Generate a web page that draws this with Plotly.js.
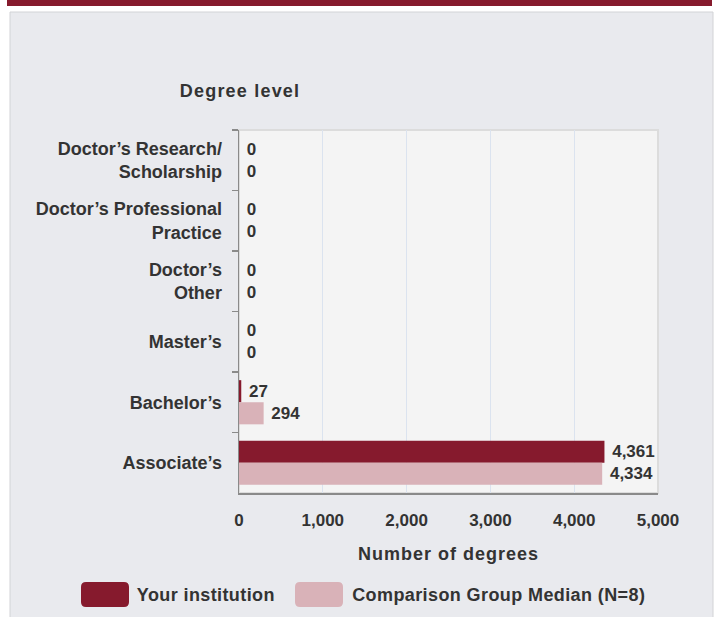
<!DOCTYPE html>
<html>
<head>
<meta charset="utf-8">
<script src="https://cdn.plot.ly/plotly-3.0.1.min.js"></script>
<style>
html,body{margin:0;padding:0;background:#ffffff;}
#chart{width:718px;height:617px;}
#chart .xtitle{letter-spacing:1px;}
#chart .annotation.ytitle-ann text{letter-spacing:1.2px;}
#chart .annotation text{letter-spacing:0.4px;}
</style>
</head>
<body>
<div id="chart"></div>
<script>
// ---- data ----
const categories = ["Doctor\u2019s Research/<br>Scholarship", "Doctor\u2019s Professional<br>Practice", "Doctor\u2019s<br>Other", "Master\u2019s", "Bachelor\u2019s", "Associate\u2019s"];
const yourInstitution = [0, 0, 0, 0, 27, 4361];
const comparisonMedian = [0, 0, 0, 0, 294, 4334];
const seriesNames = ["Your institution", "Comparison Group Median (N=8)"];
const xTickValues = [0, 1000, 2000, 3000, 4000, 5000];
const xTitle = "Number of degrees";
const yTitle = "Degree level";

// ---- layout helpers (pixel -> paper) ----
const W = 718, H = 617;
const M = {l: 239, r: 60, t: 130, b: 124};
const PW = W - M.l - M.r, PH = H - M.t - M.b;
const px = v => (v - M.l) / PW;
const py = v => (H - M.b - v) / PH;
function roundRect(x0, y0, x1, y1, r) {
  const p = (x, y) => px(x).toFixed(5) + ',' + py(y).toFixed(5);
  return 'M' + p(x0 + r, y0) + ' L' + p(x1 - r, y0) + ' Q' + p(x1, y0) + ' ' + p(x1, y0 + r) +
    ' L' + p(x1, y1 - r) + ' Q' + p(x1, y1) + ' ' + p(x1 - r, y1) +
    ' L' + p(x0 + r, y1) + ' Q' + p(x0, y1) + ' ' + p(x0, y1 - r) +
    ' L' + p(x0, y0 + r) + ' Q' + p(x0, y0) + ' ' + p(x0 + r, y0) + ' Z';
}

const DARK = '#861a2d', PINK = '#d9b2b8', TXT = '#333333';
const FONT = 'Liberation Sans, Arial, sans-serif';

const common = {
  type: 'bar', orientation: 'h', y: categories,
  textposition: 'outside', cliponaxis: false, constraintext: 'none',
  texttemplate: '\u00a0%{x:,}',
  textfont: {family: FONT, size: 17, color: TXT, weight: 700},
  hoverinfo: 'skip', showlegend: false
};
const traces = [
  Object.assign({}, common, {x: yourInstitution, name: seriesNames[0], marker: {color: DARK}}),
  Object.assign({}, common, {x: comparisonMedian, name: seriesNames[1], marker: {color: PINK}})
];

const layout = {
  width: W, height: H,
  margin: M,
  paper_bgcolor: '#ffffff',
  plot_bgcolor: 'rgba(0,0,0,0)',
  font: {family: FONT, color: TXT, size: 17},
  barmode: 'group', bargap: 0.27, bargroupgap: 0,
  showlegend: false,
  xaxis: {
    range: [0, 5000], tickvals: xTickValues, tickformat: ',',
    showgrid: true, gridcolor: '#dbe3ef', gridwidth: 1,
    zeroline: false, showline: true, linecolor: '#8a8a8a', linewidth: 1.5,
    ticks: '', ticklabelstandoff: 11,
    tickfont: {family: FONT, size: 17, color: TXT, weight: 700},
    title: {text: xTitle, standoff: 18, font: {family: FONT, size: 18, color: TXT, weight: 700}},
    automargin: false, fixedrange: true
  },
  yaxis: {
    type: 'category', autorange: 'reversed',
    showgrid: false, zeroline: false, showline: true, linecolor: '#8a8a8a', linewidth: 1.5,
    ticks: 'outside', tickson: 'boundaries', ticklen: 6, tickcolor: '#8a8a8a', tickwidth: 1.5,
    ticklabelstandoff: 12,
    tickfont: {family: FONT, size: 18, color: TXT, weight: 700},
    automargin: false, fixedrange: true
  },
  shapes: [
    {type: 'rect', xref: 'paper', yref: 'paper', layer: 'below',
     x0: px(10), x1: px(713), y0: py(640), y1: py(12),
     fillcolor: '#e9eaee', line: {color: '#d2d3d6', width: 1}},
    {type: 'rect', xref: 'paper', yref: 'paper', layer: 'below',
     x0: px(7), x1: px(712), y0: py(6), y1: py(-10),
     fillcolor: '#861a2d', line: {width: 0}},
    {type: 'rect', xref: 'paper', yref: 'paper', layer: 'below',
     x0: 0, x1: 1, y0: 0, y1: 1,
     fillcolor: '#f4f4f4', line: {color: '#dcdcdc', width: 2}},
    {type: 'path', xref: 'paper', yref: 'paper', path: roundRect(81, 582, 129, 607, 5),
     fillcolor: DARK, line: {width: 0}},
    {type: 'path', xref: 'paper', yref: 'paper', path: roundRect(295, 582, 343, 607, 5),
     fillcolor: PINK, line: {width: 0}}
  ],
  annotations: [
    {text: yTitle, xref: 'paper', yref: 'paper', x: px(240), y: py(91),
     xanchor: 'center', yanchor: 'middle', showarrow: false,
     font: {family: FONT, size: 18, color: TXT, weight: 700}},
    {text: seriesNames[0], xref: 'paper', yref: 'paper', x: px(138), y: py(595),
     xanchor: 'left', yanchor: 'middle', showarrow: false,
     font: {family: FONT, size: 18, color: TXT, weight: 700}},
    {text: seriesNames[1], xref: 'paper', yref: 'paper', x: px(356), y: py(595),
     xanchor: 'left', yanchor: 'middle', showarrow: false,
     font: {family: FONT, size: 18, color: TXT, weight: 700}}
  ]
};

Plotly.newPlot('chart', traces, layout, {displayModeBar: false, staticPlot: true}).then(gd => {
  const ann = gd.querySelectorAll('.annotation');
  if (ann.length) ann[0].classList.add('ytitle-ann');
});
</script>
</body>
</html>
